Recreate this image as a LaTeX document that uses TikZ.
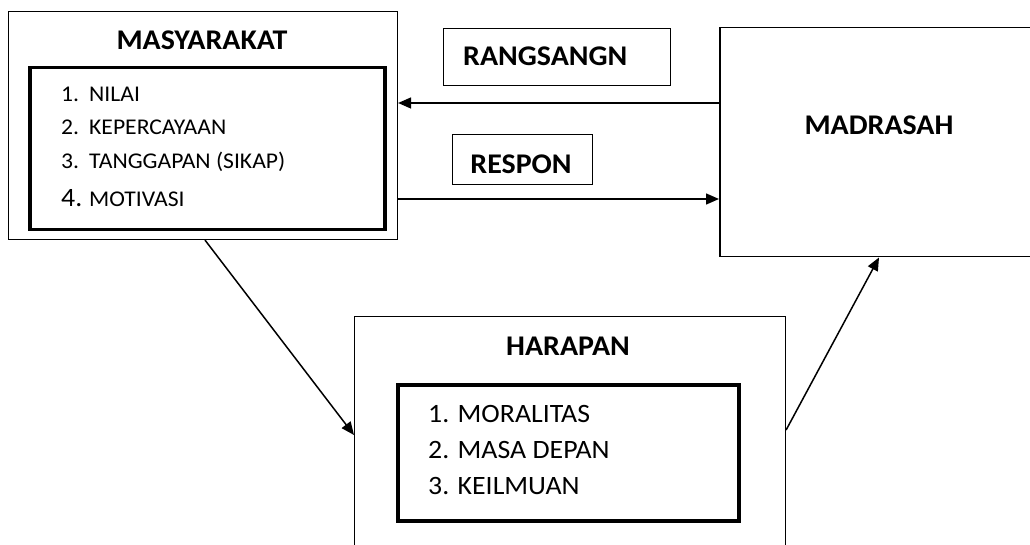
\documentclass[tikz,border=0pt]{standalone}
\usepackage{fontspec}
\setmainfont{Carlito}[FakeStretch=1.05]
\usetikzlibrary{arrows.meta}
\begin{document}
\begin{tikzpicture}[x=1pt,y=-1pt,
  outerbox/.style={draw,line width=1.1pt,rectangle,inner sep=0pt,anchor=north west},
  innerbox/.style={draw,line width=3.5pt,rectangle,inner sep=0pt,anchor=north west},
  labelbox/.style={draw,line width=1pt,rectangle,inner sep=0pt,anchor=north west},
  title/.style={font=\fontsize{28.5}{30}\selectfont\bfseries,inner sep=0pt,anchor=base},
  itemA/.style={font=\fontsize{22.5}{24}\selectfont,inner sep=0pt,anchor=base west},
  itemB/.style={font=\fontsize{26.5}{28}\selectfont,inner sep=0pt,anchor=base west},
  arr/.style={line width=1.5pt,-{Triangle[length=13pt,width=11pt]}}]
\useasboundingbox (0,0) rectangle (1030,545);
\clip (0,0) rectangle (1030,545);
\fill[white] (0,0) rectangle (1030,545);
% boxes
\node[outerbox,minimum width=389pt,minimum height=228pt] (masy) at (8,11) {};
\node[innerbox,minimum width=355pt,minimum height=162pt] (masyin) at (28,66) {};
\node[labelbox,minimum width=227pt,minimum height=57pt] (rang) at (443,28) {};
\node[labelbox,minimum width=140pt,minimum height=50pt] (resp) at (452,134) {};
\node[outerbox,line width=1.5pt,minimum width=330pt,minimum height=229pt] (madr) at (719,27) {};
\node[outerbox,minimum width=431pt,minimum height=250pt] (harp) at (354,316) {};
\node[innerbox,minimum width=341pt,minimum height=136pt] (harpin) at (396,383) {};
% titles
\node[title] (masyt) at (202,50) {MASYARAKAT};
\node[title,anchor=base west] (rangt) at (463,65.7) {RANGSANGN};
\node[title] (respt) at (521,173.3) {RESPON};
\node[title] (madrt) at (879,134.3) {MADRASAH};
\node[title] (harpt) at (568,355) {HARAPAN};
% masyarakat items
\node[itemA] (n1) at (61,101.5) {1.};
\node[itemA] (t1) at (89,101.5) {NILAI};
\node[itemA] (n2) at (61,135) {2.};
\node[itemA] (t2) at (89,135) {KEPERCAYAAN};
\node[itemA] (n3) at (61,168.5) {3.};
\node[itemA] (t3) at (89,168.5) {TANGGAPAN (SIKAP)};
\node[itemB] (n4) at (61,206.5) {4.};
\node[itemA] (t4) at (89,206.5) {MOTIVASI};
% harapan items
\node[itemB] (h1) at (428,422.5) {1. MORALITAS};
\node[itemB] (h2) at (428,458) {2. MASA DEPAN};
\node[itemB] (h3) at (428,494) {3. KEILMUAN};
% connectors
\draw[arr] ([yshift=-76pt]madr.north west) -- ([yshift=-76pt]madr.north west -| masy.east);
\draw[arr] ([yshift=-188pt]masy.north east) -- ([yshift=-188pt]masy.north east -| madr.west);
\draw[arr] ([xshift=197pt]masy.south west) -- ([yshift=-119pt]harp.north west);
\draw[arr] ([yshift=-114pt]harp.north east) -- ([xshift=160pt]madr.south west);
\end{tikzpicture}
\end{document}
